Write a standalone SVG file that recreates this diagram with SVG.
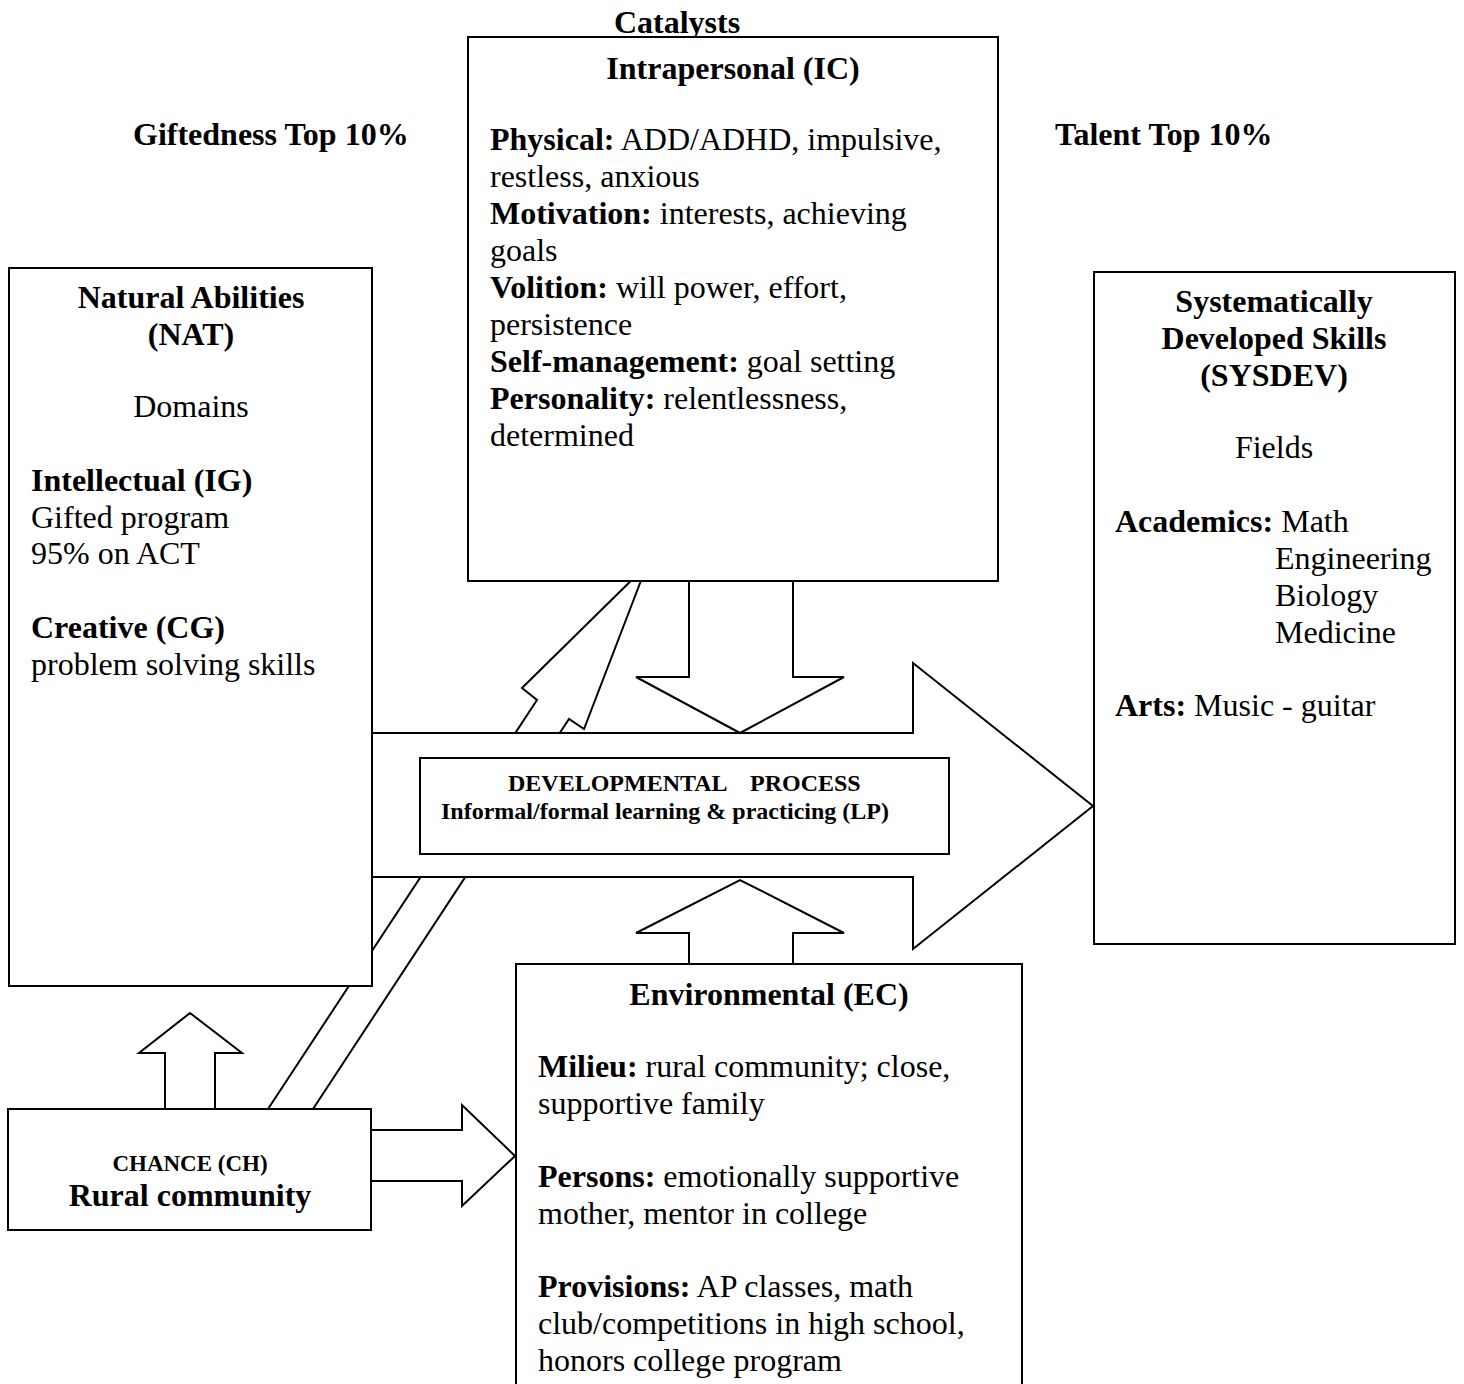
<svg xmlns="http://www.w3.org/2000/svg" width="1464" height="1384" viewBox="0 0 1464 1384">
<style>
text{font-family:"Liberation Serif","Times New Roman",serif;font-size:32px;fill:#000}
.b{font-weight:bold}
.c{text-anchor:middle}
.s{font-size:24px}
.box{fill:#fff;stroke:#000;stroke-width:2}
.arr{fill:#fff;stroke:#000;stroke-width:2;stroke-linejoin:miter}
</style>
<rect width="1464" height="1384" fill="#fff"/>
<g id="connectors">
<polygon class="arr" points="268,1109 537,700 522,688 647,565 584,729 569,719 313,1109"/>
<polygon class="arr" points="372,733 913,733 913,663 1093,806 913,949 913,877 372,877"/>
<polygon class="arr" points="689,581 689,677 636,677 740,733 844,677 793,677 793,581"/>
<polygon class="arr" points="689,964 689,933 636,933 740,880 844,933 793,933 793,964"/>
<polygon class="arr" points="165,1109 165,1053 139,1053 190,1013 242,1053 215,1053 215,1109"/>
<polygon class="arr" points="371,1130 462,1130 462,1105 515,1156 462,1206 462,1181 371,1181"/>
</g>
<g id="labels">
<text class="b c" x="677" y="33">Catalysts</text>
<text class="b" x="133" y="145">Giftedness Top 10%</text>
<text class="b" x="1055" y="145">Talent Top 10%</text>
</g>
<g id="dp">
<rect class="box" x="420" y="758" width="529" height="96"/>
<text class="b s" x="508" y="791">DEVELOPMENTAL</text>
<text class="b s" x="750" y="791">PROCESS</text>
<text class="b s c" x="665" y="819">Informal/formal learning &amp; practicing (LP)</text>
</g>
<g id="nat">
<rect class="box" x="9" y="268" width="363" height="718"/>
<text class="b c" x="191" y="308">Natural Abilities</text>
<text class="b c" x="191" y="345">(NAT)</text>
<text class="c" x="191" y="417">Domains</text>
<text class="b" x="31" y="491">Intellectual (IG)</text>
<text x="31" y="528">Gifted program</text>
<text x="31" y="564">95% on ACT</text>
<text class="b" x="31" y="638">Creative (CG)</text>
<text x="31" y="675">problem solving skills</text>
</g>
<g id="ic">
<rect class="box" x="468" y="37" width="530" height="544"/>
<text class="b c" x="733" y="79">Intrapersonal (IC)</text>
<text x="490" y="150"><tspan class="b">Physical:</tspan> ADD/ADHD, impulsive,</text>
<text x="490" y="187">restless, anxious</text>
<text x="490" y="224"><tspan class="b">Motivation:</tspan> interests, achieving</text>
<text x="490" y="261">goals</text>
<text x="490" y="298"><tspan class="b">Volition:</tspan> will power, effort,</text>
<text x="490" y="335">persistence</text>
<text x="490" y="372"><tspan class="b">Self-management:</tspan> goal setting</text>
<text x="490" y="409"><tspan class="b">Personality:</tspan> relentlessness,</text>
<text x="490" y="446">determined</text>
</g>
<g id="sysdev">
<rect class="box" x="1094" y="272" width="361" height="672"/>
<text class="b c" x="1274" y="312">Systematically</text>
<text class="b c" x="1274" y="349">Developed Skills</text>
<text class="b c" x="1274" y="386">(SYSDEV)</text>
<text class="c" x="1274" y="458">Fields</text>
<text x="1115" y="532"><tspan class="b">Academics:</tspan> Math</text>
<text x="1275" y="569">Engineering</text>
<text x="1275" y="606">Biology</text>
<text x="1275" y="643">Medicine</text>
<text x="1115" y="716"><tspan class="b">Arts:</tspan> Music - guitar</text>
</g>
<g id="ec">
<rect class="box" x="516" y="964" width="506" height="430"/>
<text class="b c" x="769" y="1005">Environmental (EC)</text>
<text x="538" y="1077"><tspan class="b">Milieu:</tspan> rural community; close,</text>
<text x="538" y="1114">supportive family</text>
<text x="538" y="1187"><tspan class="b">Persons:</tspan> emotionally supportive</text>
<text x="538" y="1224">mother, mentor in college</text>
<text x="538" y="1297"><tspan class="b">Provisions:</tspan> AP classes, math</text>
<text x="538" y="1334">club/competitions in high school,</text>
<text x="538" y="1371">honors college program</text>
</g>
<g id="chance">
<rect class="box" x="8" y="1109" width="363" height="121"/>
<text class="b c" x="190" y="1171" style="font-size:23px">CHANCE (CH)</text>
<text class="b c" x="190" y="1206">Rural community</text>
</g>
</svg>
